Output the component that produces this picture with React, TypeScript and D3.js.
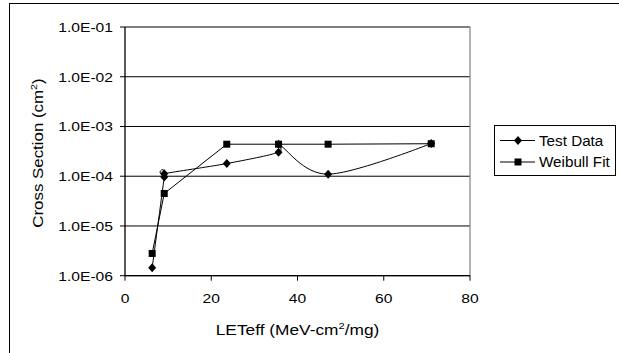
import React from "react";
import * as d3 from "d3";

const testX = [6.3, 9.1, 9.1, 23.6, 35.6, 35.6, 47.1, 71];
const testY = [1.45e-6, 9.7e-5, 1.12e-4, 1.8e-4, 3.04e-4, 4.4e-4, 1.1e-4, 4.55e-4];
const weibullX = [6.3, 9.1, 23.6, 35.6, 47.1, 71];
const weibullY = [2.8e-6, 4.5e-5, 4.4e-4, 4.4e-4, 4.4e-4, 4.5e-4];
const xTicks = [0, 20, 40, 60, 80];
const yTicks = [1e-6, 1e-5, 1e-4, 1e-3, 1e-2, 1e-1];
const yTickLabels = ["1.0E-06", "1.0E-05", "1.0E-04", "1.0E-03", "1.0E-02", "1.0E-01"];
const seriesNames = ["Test Data", "Weibull Fit"];

const W = 619;
const H = 353;
const FONT = "'Liberation Sans', Arial, sans-serif";
const SX = 1.16;

function diamond(cx: number, cy: number, r = 4) {
  return `M${cx},${cy - r - 0.5}L${cx + r},${cy}L${cx},${cy + r + 0.5}L${cx - r},${cy}Z`;
}

export default function App() {
  const left = 125, right = 470, top = 27, bottom = 275.7;
  const x = d3.scaleLinear().domain([0, 80]).range([left, right]);
  const y = d3.scaleLog().domain([1e-6, 1e-1]).range([bottom, top]);

  const testPts: [number, number][] = testX.map((v, i) => [x(v), y(testY[i])]);
  const weibPts: [number, number][] = weibullX.map((v, i) => [x(v), y(weibullY[i])]);

  const smooth = d3.line().curve(d3.curveCardinal.tension(0));
  const straight = d3.line();

  return (
    <svg
      width={W}
      height={H}
      style={{ position: "absolute", left: 0, top: 0, background: "#fff" }}
      fontFamily={FONT}
    >
      <rect x={0} y={0} width={W} height={H} fill="#fff" />
      <rect x={9.5} y={3.5} width={W + 10} height={H + 10} fill="none" stroke="#000" strokeWidth={1} />

      {/* gridlines */}
      {yTicks.map((t, i) => (
        <line key={"g" + i} x1={left} x2={right} y1={y(t)} y2={y(t)} stroke="#000" strokeWidth={1} />
      ))}
      {/* right border */}
      <line x1={right} x2={right} y1={top} y2={bottom} stroke="#808080" strokeWidth={1.2} />

      {/* y axis */}
      <line x1={left} x2={left} y1={top} y2={bottom + 0.5} stroke="#000" strokeWidth={1.3} />
      {yTicks.map((t, i) => (
        <g key={"yt" + i}>
          <line x1={left - 5} x2={left} y1={y(t)} y2={y(t)} stroke="#000" strokeWidth={1} />
          <text
            transform={`translate(113,${y(t)}) scale(${SX},1)`}
            dy="0.36em"
            textAnchor="end"
            fontSize={13.5}
            fill="#000"
          >
            {yTickLabels[i]}
          </text>
        </g>
      ))}

      {/* x axis */}
      <line x1={left} x2={right} y1={bottom} y2={bottom} stroke="#000" strokeWidth={1.3} />
      {xTicks.map((t, i) => (
        <g key={"xt" + i}>
          <line x1={x(t)} x2={x(t)} y1={bottom} y2={bottom + 5} stroke="#000" strokeWidth={1} />
          <text
            transform={`translate(${x(t)},302.7) scale(${SX},1)`}
            textAnchor="middle"
            fontSize={13.5}
            fill="#000"
          >
            {t}
          </text>
        </g>
      ))}

      {/* axis titles */}
      <text
        transform={`translate(${(left + right) / 2},335) scale(1.17,1)`}
        textAnchor="middle"
        fontSize={14.8}
        fill="#000"
      >
        LETeff (MeV-cm<tspan dy={-6} fontSize={9.5}>2</tspan>
        <tspan dy={6}>/mg)</tspan>
      </text>
      <text
        transform={`translate(43.3,153) rotate(-90) scale(1.14,1)`}
        textAnchor="middle"
        fontSize={14.8}
        fill="#000"
      >
        Cross Section (cm<tspan dy={-6} fontSize={9.5}>2</tspan>
        <tspan dy={6}>)</tspan>
      </text>

      {/* series lines */}
      <path d={straight(weibPts) || ""} fill="none" stroke="#000" strokeWidth={1} />
      <path d={smooth(testPts) || ""} fill="none" stroke="#000" strokeWidth={1} />

      {/* markers */}
      {weibPts.map((p, i) => (
        <rect key={"ws" + i} x={p[0] - 3.5} y={p[1] - 3.5} width={7} height={7} fill="#000" />
      ))}
      {testPts.map((p, i) => (
        <path key={"td" + i} d={diamond(p[0], p[1])} fill="#000" />
      ))}

      {/* legend */}
      <rect x={494.5} y={125.5} width={121} height={50} fill="#fff" stroke="#000" strokeWidth={1} />
      <line x1={500} x2={535} y1={140.5} y2={140.5} stroke="#000" strokeWidth={1} />
      <path d={diamond(518, 140.5)} fill="#000" />
      <text transform={`translate(539,145.5) scale(1.05,1)`} fontSize={14.5} fill="#000">{seriesNames[0]}</text>
      <line x1={500} x2={535} y1={162} y2={162} stroke="#000" strokeWidth={1} />
      <rect x={514.5} y={158.5} width={7} height={7} fill="#000" />
      <text transform={`translate(539,167) scale(1.05,1)`} fontSize={14.5} fill="#000">{seriesNames[1]}</text>
    </svg>
  );
}
